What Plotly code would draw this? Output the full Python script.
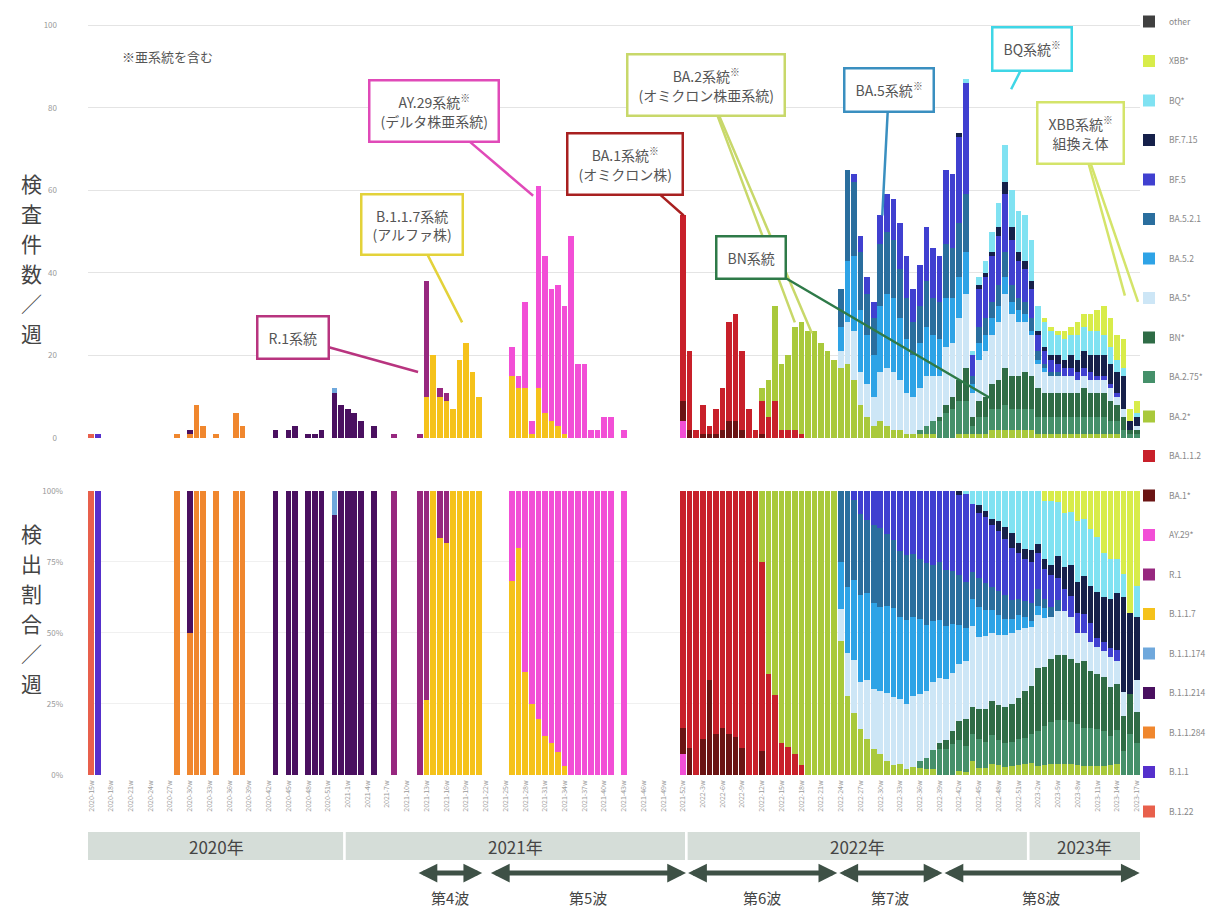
import numpy as np
import plotly.graph_objects as go

# ---------------- data ----------------
YEARS = [2020, 2021, 2022, 2023]
FIRST_WEEK = [15, 1, 1, 1]
LAST_WEEK = [53, 52, 52, 17]
WEEKS = [f"{y}-{w}w" for y, a, b in zip(YEARS, FIRST_WEEK, LAST_WEEK) for w in range(a, b + 1)]
N = len(WEEKS)

# weekly detections per lineage: (first week, counts from that week on)
B_1_22 = ("2020-15w", [1])
B_1_1 = ("2020-16w", [1])
B_1_1_284 = ("2020-28w", [1, 0, 1, 8, 3, 0, 1, 0, 0, 6, 3])
B_1_1_214 = ("2020-30w", [1, 0, 0, 0, 0, 0, 0, 0, 0, 0, 0, 0, 0, 2, 0, 2, 3, 0, 1, 1, 2, 0, 11, 8, 7, 6, 4, 0, 3])
B_1_1_174 = ("2020-52w", [1])
B_1_1_7 = ("2021-13w", [10, 20, 10, 9, 7, 19, 23, 16, 10, 0, 0, 0, 0, 15, 12, 12, 1, 12, 6, 4, 3, 1])
R_1 = ("2021-8w", [1, 0, 0, 0, 1, 28, 0, 2, 2])
AY_29 = ("2021-26w", [7, 3, 21, 3, 49, 38, 32, 34, 31, 49, 18, 18, 2, 2, 5, 5, 0, 2, 0, 0, 0, 0, 0, 0, 0, 0, 4])
BA_1 = ("2021-52w", [5, 2, 0, 1, 1, 1, 2, 4, 4, 2, 0, 0, 1])
BA_1_1_2 = ("2021-52w", [45, 19, 2, 7, 2, 6, 10, 24, 26, 19, 7, 2, 8, 5, 9, 2, 2, 2, 1])
BA_2 = ("2022-12w", [3, 9, 23, 16, 18, 25, 27, 26, 26, 23, 21, 19, 17, 18, 14, 8, 5, 3, 4, 3,
                     2, 2, 1, 1, 1, 1, 1, 0, 0, 0, 1, 1, 1, 1, 1, 2, 2, 2, 2, 2, 2, 2,
                     1, 1, 1, 1, 1, 1, 1, 1, 1, 1, 1, 1, 1, 0, 0, 0])
BA_2_75 = ("2022-36w", [1, 2, 3, 4, 6, 7, 8, 8, 2, 4, 4, 5, 5, 6, 5, 5, 5, 5,
                        4, 4, 4, 4, 4, 4, 4, 4, 4, 4, 4, 3, 3, 2, 1, 1])
BN = ("2022-39w", [1, 2, 3, 5, 8, 2, 4, 5, 6, 7, 9, 8, 8, 9, 8, 7, 6, 6, 6, 6, 6, 6, 7, 6, 6,
                   6, 5, 4, 3, 1, 1])
BA_5 = ("2022-24w", [4, 10, 12, 8, 8, 7, 12, 14, 14, 12, 10, 9, 10, 12, 11, 10, 14, 13, 15, 18,
                     6, 10, 11, 12, 14, 18, 15, 13, 12, 10, 6, 5, 4, 4, 4, 4, 3, 3, 3, 3,
                     3, 3, 2, 2, 0, 1])
BA_5_2 = ("2022-24w", [6, 15, 18, 15, 12, 10, 16, 18, 18, 15, 13, 10, 11, 12, 10, 9, 12, 11, 10, 10,
                       2, 4, 4, 4, 4, 4, 3, 3, 2, 1, 1, 1])
BA_5_2_1 = ("2022-24w", [9, 22, 18, 14, 10, 9, 15, 15, 14, 12, 10, 8, 9, 11, 9, 9, 13, 12, 13, 14,
                         2, 4, 4, 4, 5, 6, 4, 3, 3, 3, 2, 1, 1, 1])
BF_5 = ("2022-26w", [2, 4, 4, 4, 7, 9, 10, 11, 10, 8, 10, 13, 12, 11, 18, 18, 21, 27,
                     5, 9, 10, 11, 12, 14, 11, 9, 8, 7, 4, 3, 3, 2, 2, 2, 2, 2, 2, 1, 1, 1, 1])
BF_7_15 = ("2022-42w", [1, 0, 0, 1, 1, 1, 2, 3, 3, 2, 2, 2, 1, 1, 1, 2, 2, 3, 3, 4, 4, 5,
                        5, 5, 5, 8, 2, 2])
BQ = ("2022-43w", [1, 1, 2, 3, 5, 6, 9, 9, 10, 11, 10, 6, 6, 6, 5, 5, 5, 6, 6, 6, 6,
                   5, 4, 3, 2, 0, 1])
XBB = ("2023-3w", [1, 1, 1, 2, 2, 3, 3, 4, 5, 7, 7, 6, 7, 3, 3])
OTHER = ("2023-17w", [0])

SERIES = [("B.1.22", B_1_22), ("B.1.1", B_1_1), ("B.1.1.284", B_1_1_284), ("B.1.1.214", B_1_1_214),
          ("B.1.1.174", B_1_1_174), ("B.1.1.7", B_1_1_7), ("R.1", R_1), ("AY.29*", AY_29),
          ("BA.1*", BA_1), ("BA.1.1.2", BA_1_1_2), ("BA.2*", BA_2), ("BA.2.75*", BA_2_75),
          ("BN*", BN), ("BA.5*", BA_5), ("BA.5.2", BA_5_2), ("BA.5.2.1", BA_5_2_1),
          ("BF.5", BF_5), ("BF.7.15", BF_7_15), ("BQ*", BQ), ("XBB*", XBB), ("other", OTHER)]

YEAR_LABELS = ["2020年", "2021年", "2022年", "2023年"]
WAVES = [("第4波", "2021-12w", "2021-21w"), ("第5波", "2021-23w", "2021-52w"),
         ("第6波", "2022-1w", "2022-23w"), ("第7波", "2022-24w", "2022-39w"),
         ("第8波", "2022-40w", "2023-17w")]

# ---------------- styles ----------------
COLORS = {
    "B.1.22": "#e8604c", "B.1.1": "#5530cc", "B.1.1.284": "#f0872e", "B.1.1.214": "#4a1060",
    "B.1.1.174": "#6fa8dc", "B.1.1.7": "#f5c21b", "R.1": "#97287f", "AY.29*": "#f24fd6",
    "BA.1*": "#6b1414", "BA.1.1.2": "#c8202a", "BA.2*": "#a9c93b", "BA.2.75*": "#45906a",
    "BN*": "#2f6c46", "BA.5*": "#cde6f6", "BA.5.2": "#2ea3e6", "BA.5.2.1": "#2a6e9e",
    "BF.5": "#4040d0", "BF.7.15": "#16204a", "BQ*": "#80e2f2", "XBB*": "#d8ec4a", "other": "#404040",
}
FONT = "Noto Sans CJK JP"
W, H = 1224, 909
L, R = 88, 84
PW = W - L - R
PXW = PW / N  # pixels per week

counts = np.zeros((len(SERIES), N))
for k, (name, (start, vals)) in enumerate(SERIES):
    s = WEEKS.index(start)
    counts[k, s:s + len(vals)] = vals
total = counts.sum(axis=0)
pct = np.divide(counts * 100.0, total, out=np.zeros_like(counts), where=total > 0)
x = np.arange(N)

fig = go.Figure()
for k, (name, _) in enumerate(SERIES):
    rank = len(SERIES) - k
    fig.add_bar(x=x, y=counts[k], name=name, marker_color=COLORS[name], marker_line_width=0,
                legendgroup=name, legendrank=rank, xaxis="x", yaxis="y")
    fig.add_bar(x=x, y=pct[k], name=name, marker_color=COLORS[name], marker_line_width=0,
                legendgroup=name, legendrank=rank, showlegend=False, xaxis="x2", yaxis="y2")


def py(p):
    return 1 - p / H


def px(p):
    return (p - L) / PW


def widx(label):
    return WEEKS.index(label)


ann = []
shapes = []

# callouts: text, box (x, y), tips [(x, y)...], color
CALLOUTS = [
    ("R.1系統", (30.7, 24.4), [(49.7, 16)], "#b8347f"),
    ("B.1.1.7系統<br>(アルファ株)", (48.8, 51.7), [(56.4, 28)], "#e3d23a"),
    ("AY.29系統<sup>※</sup><br>(デルタ株亜系統)", (52.1, 79.2), [(67.2, 58.7)], "#e04ab8"),
    ("BA.1系統<sup>※</sup><br>(オミクロン株)", (81.2, 66.4), [(90.1, 53.9)], "#a82020"),
    ("BA.2系統<sup>※</sup><br>(オミクロン株亜系統)", (93.5, 85.5), [(107, 28), (109.6, 25.4)], "#c8d86a"),
    ("BN系統", (100.3, 43.7), [(136.7, 9.7)], "#2e7a48"),
    ("BA.5系統<sup>※</sup>", (121.3, 84.3), [(120.3, 53.9)], "#3a8fc0"),
    ("BQ系統<sup>※</sup>", (143.0, 94.2), [(139.9, 84.5)], "#3fd6e6"),
    ("XBB系統<sup>※</sup><br>組換え体", (150.4, 73.9), [(157.2, 34.5), (159.2, 33)], "#d4e46a"),
]
for text, (bx, by), tips, col in CALLOUTS:
    for tx, ty in tips[1:]:
        ann.append(dict(x=tx, y=ty, ax=bx, ay=by, xref="x", yref="y", axref="x", ayref="y",
                        text="", showarrow=True, arrowhead=0, arrowwidth=2.5, arrowcolor=col))
    tx, ty = tips[0]
    ann.append(dict(x=tx, y=ty, ax=bx, ay=by, xref="x", yref="y", axref="x", ayref="y",
                    text=text, showarrow=True, arrowhead=0, arrowwidth=2.5, arrowcolor=col,
                    bordercolor=col, borderwidth=2.5, borderpad=10, bgcolor="white",
                    font=dict(family=FONT, size=14, color="#555")))

ann.append(dict(x=px(120), y=py(57), xref="paper", yref="paper", xanchor="left", yanchor="middle",
                text="※亜系統を含む", showarrow=False, font=dict(family=FONT, size=13, color="#555")))

# vertical axis titles, one character per line
for title, yc in [("検査件数／週", 258), ("検出割合／週", 608)]:
    n = len(title)
    for j, ch in enumerate(title):
        yy = yc + (j - (n - 1) / 2) * 30
        ann.append(dict(x=px(31), y=py(yy), xref="paper", yref="paper", xanchor="center",
                        yanchor="middle", text=ch, showarrow=False,
                        font=dict(family=FONT, size=21, color="#444")))

# year bands
for yr, lab in zip(YEARS, YEAR_LABELS):
    idx = [i for i, w in enumerate(WEEKS) if w.startswith(f"{yr}-")]
    x0, x1 = idx[0] - 0.5, idx[-1] + 0.5
    shapes.append(dict(type="rect", xref="x2", yref="paper", x0=x0 + (0.2 if idx[0] else 0),
                       x1=x1 - (0.2 if idx[-1] < N - 1 else 0), y0=py(860), y1=py(832),
                       fillcolor="#d5ddd8", line_width=0, layer="below"))
    ann.append(dict(x=(x0 + x1) / 2, y=py(846), xref="x2", yref="paper", xanchor="center",
                    yanchor="middle", text=lab, showarrow=False,
                    font=dict(family=FONT, size=17, color="#444")))

# waves
for lab, a, b in WAVES:
    xa, xb = widx(a) - 0.45, widx(b) + 0.45
    ann.append(dict(x=xb, y=py(873), xref="x2", yref="paper", ax=-(xb - xa) * PXW, ay=0,
                    axref="pixel", ayref="pixel", text="", showarrow=True, arrowside="end+start",
                    arrowhead=2, arrowsize=0.75, arrowwidth=5, arrowcolor="#3e5146"))
    ann.append(dict(x=(xa + xb) / 2, y=py(897), xref="x2", yref="paper", xanchor="center",
                    yanchor="middle", text=lab, showarrow=False,
                    font=dict(family=FONT, size=15, color="#444")))

tick_idx = list(range(0, N, 3))

fig.update_layout(
    width=W, height=H, margin=dict(l=L, r=R, t=0, b=0, autoexpand=False),
    paper_bgcolor="white", plot_bgcolor="white",
    barmode="stack", bargap=0.15,
    font=dict(family=FONT),
    xaxis=dict(domain=[0, 1], anchor="y", range=[-0.5, N - 0.5], showticklabels=False,
               showgrid=False, zeroline=False, automargin=False),
    yaxis=dict(domain=[py(438), py(24)], anchor="x", range=[0, 100.3], tickvals=[0, 20, 40, 60, 80, 100],
               gridcolor="#e4e4e4", gridwidth=1, zeroline=False, ticklabelstandoff=30,
               tickfont=dict(size=8, color="#999"), automargin=False),
    xaxis2=dict(domain=[0, 1], anchor="y2", range=[-0.5, N - 0.5], tickvals=tick_idx,
                ticktext=[WEEKS[i] for i in tick_idx], tickangle=-90, showgrid=False, zeroline=False,
                tickfont=dict(size=7, color="#9a9a9a"), ticklabelstandoff=3, automargin=False),
    yaxis2=dict(domain=[py(775), py(490)], anchor="x2", range=[0, 100.3], tickvals=[0, 25, 50, 75, 100],
                ticktext=["0%", "25%", "50%", "75%", "100%"], gridcolor="#f0f0f0", zeroline=False,
                ticklabelstandoff=24, tickfont=dict(size=8, color="#999"), automargin=False),
    legend=dict(x=px(1129), y=py(7), xanchor="left", yanchor="top", traceorder="grouped",
                tracegroupgap=20.5, font=dict(size=8.5, color="#888"), itemwidth=30,
                maxheight=905, bgcolor="rgba(0,0,0,0)"),
    annotations=ann, shapes=shapes,
)

fig.write_html("out.html", config={"displayModeBar": False},
               post_script="document.body.style.margin='0px';")
